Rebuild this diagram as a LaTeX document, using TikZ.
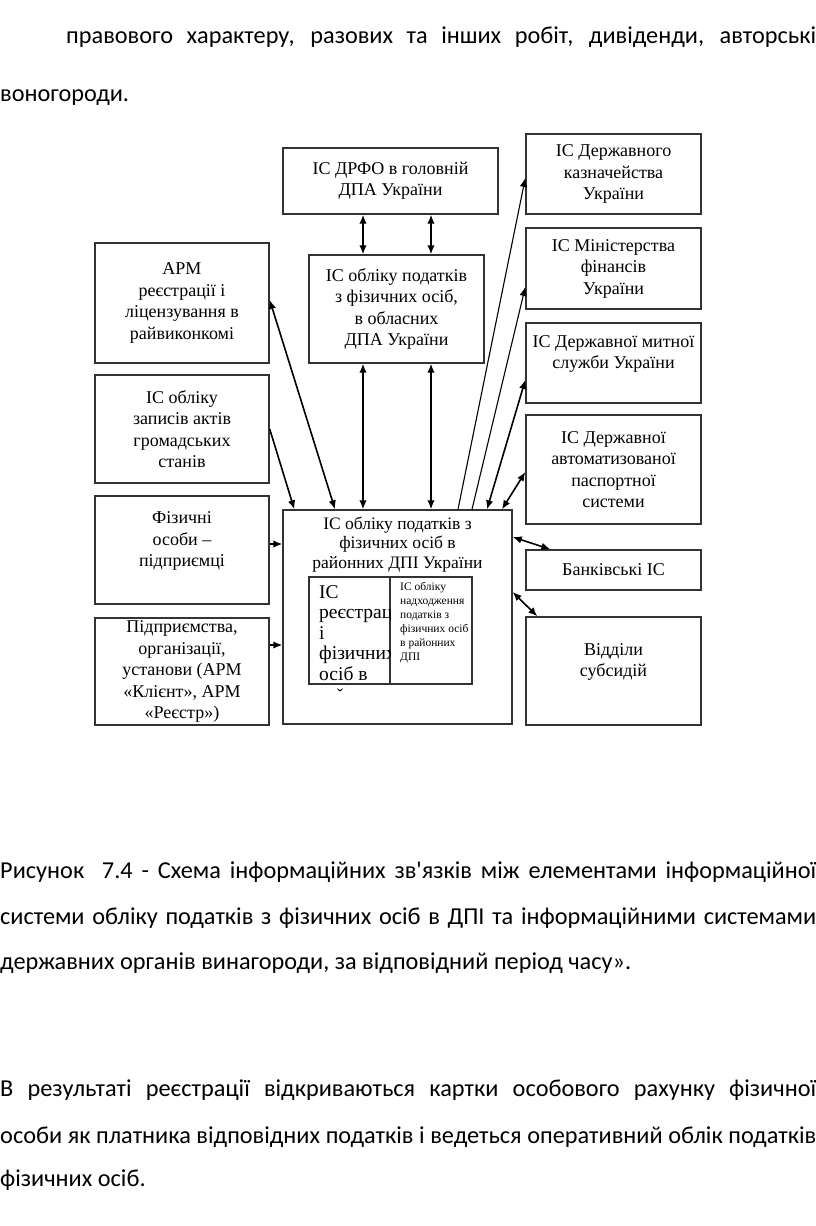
\documentclass[tikz,border=0pt]{standalone}
\usepackage{fontspec}
\newfontfamily\pagefont{Carlito}
\newfontfamily\boxfont{Liberation Serif}
\usetikzlibrary{arrows.meta, positioning}

\begin{document}
\begin{tikzpicture}[
    x=1pt, y=-1pt,
    box/.style={draw=black!80, line width=1.4pt, inner sep=0pt, align=center,
        font=\boxfont\fontsize{18}{21.5}\selectfont},
    pageline/.style={anchor=base west, inner sep=0pt, font=\pagefont\fontsize{24.3}{28}\selectfont},
    link/.style={line width=1.6pt},
    thinlink/.style={line width=1.1pt},
    >={Latex[length=9pt, width=7.5pt]} % Arrow style
]
\useasboundingbox (0,0) rectangle (816,1226);

% Text above
\node[pageline] (p1) at (66,43) {\makebox[750pt][s]{правового характеру, разових та інших робіт, дивіденди, авторські}};
\node[pageline] (p2) at (0,101) {воногороди.};

% Left column
\node[box, minimum width=174pt, minimum height=120pt] (arm) at (182,303) {АРМ\\ реєстрації і\\ ліцензування в\\ райвиконкомі};
\node[box, minimum width=174pt, minimum height=108pt] (zapys) at (182,429) {ІС обліку\\ записів актів\\ громадських\\ станів};
\node[box, minimum width=174pt, minimum height=108pt] (fiz) at (182,550) {Фізичні\\ особи –\\ підприємці\\ \mbox{}};
\node[box, minimum width=174pt, minimum height=107pt] (pidpr) at (182,671.5) {Підприємства,\\ організації,\\ установи (АРМ\\ «Клієнт», АРМ\\ «Реєстр»)};

% Middle column
\node[box, minimum width=215pt, minimum height=66pt] (drfo) at (390.5,181) {ІС ДРФО в головній\\ ДПА України};
\node[box, minimum width=175pt, minimum height=108pt] (obl) at (396.5,309) {ІС обліку податків\\ з фізичних осіб,\\ в обласних\\ ДПА України};
\node[box, minimum width=229pt, minimum height=214pt] (rayon) at (397.5,617) {};
\node[below=7pt of rayon.north, inner sep=0pt, align=center, font=\boxfont\fontsize{17.5}{19.5}\selectfont] (rayontitle) {ІС обліку податків з\\ фізичних осіб в\\ районних ДПІ України};
\node[box, minimum width=81pt, minimum height=107pt] (reestr) at (349.5,630.5) {};
\node[box, minimum width=82pt, minimum height=107pt] (nadh) at (431,630.5) {};
\begin{scope}
  \clip (reestr.south west) rectangle (reestr.north east);
  \node[anchor=north west, align=left, inner sep=0pt, font=\boxfont\fontsize{19.5}{20.5}\selectfont] (reestrtext) at (319,585) {ІС\\ реєстраці\\ і\\ фізичних\\ осіб в};
\end{scope}
\begin{scope}
  \clip (nadh.south west) rectangle (nadh.north east);
  \node[anchor=north west, align=left, inner sep=0pt, font=\boxfont\fontsize{11.5}{14}\selectfont] (nadhtext) at (400,582) {ІС обліку\\ надходження\\ податків з\\ фізичних осіб\\ в районних\\ ДПІ};
\end{scope}
\node[inner sep=0pt, font=\boxfont\fontsize{18}{18}\selectfont] (tail) at (340,695) {ˇ};

% Right column
\node[box, minimum width=175pt, minimum height=80pt] (kazn) at (613.5,174) {ІС Державного\\ казначейства\\ України};
\node[box, minimum width=175pt, minimum height=81pt] (minfin) at (613.5,268.5) {ІС Міністерства\\ фінансів\\ України};
\node[box, minimum width=175pt, minimum height=80pt] (mytna) at (613.5,363) {ІС Державної митної\\ служби України\\ \mbox{}};
\node[box, minimum width=175pt, minimum height=109pt] (pasp) at (613.5,469.5) {ІС Державної\\ автоматизованої\\ паспортної\\ системи};
\node[box, minimum width=175pt, minimum height=40pt] (bank) at (613.5,570) {Банківські ІС};
\node[box, minimum width=175pt, minimum height=108pt] (viddil) at (613.5,671) {Відділи\\ субсидій\\ \mbox{}};

% Arrows
\draw[link, <->] ([xshift=-27.5pt]drfo.south) -- ([xshift=-27.5pt]drfo.south |- obl.north);
\draw[link, <->] ([xshift=40.5pt]drfo.south) -- ([xshift=40.5pt]drfo.south |- obl.north);
\draw[link, <->] ([xshift=-33.5pt]obl.south) -- ([xshift=-33.5pt]obl.south |- rayon.north);
\draw[link, <->] ([xshift=34.5pt]obl.south) -- ([xshift=34.5pt]obl.south |- rayon.north);
\draw[link, <->] ([yshift=3pt]arm.east) -- ([xshift=-62.5pt]rayon.north);
\draw[link, ->] (zapys.east) -- ([xshift=12pt]rayon.north west);
\draw[link, ->] ([yshift=6pt]fiz.east) -- ([yshift=6pt]fiz.east -| rayon.west);
\draw[link, ->] ([yshift=26.5pt]pidpr.east) -- ([yshift=26.5pt]pidpr.east -| rayon.west);
\draw[thinlink, ->] ([xshift=60.5pt]rayon.north) -- ([yshift=-4pt]kazn.west);
\draw[thinlink, ->] ([xshift=74.5pt]rayon.north) -- ([yshift=-18.5pt]minfin.west);
\draw[link, <->] ([xshift=89.5pt]rayon.north) -- ([yshift=-17pt]mytna.west);
\draw[link, <->] ([xshift=104.5pt]rayon.north) -- ([yshift=-2.5pt]pasp.west);
\draw[link, <->] ([yshift=80pt]rayon.east) -- ([xshift=25pt]bank.north west);
\draw[link, <->] ([yshift=25pt]rayon.east) -- ([xshift=12pt]viddil.north west);

% Caption and text below
\node[pageline] (c1) at (0,878) {\makebox[816pt][s]{Рисунок\ \ 7.4 - Схема інформаційних зв'язків між елементами інформаційної}};
\node[pageline] (c2) at (0,924) {\makebox[816pt][s]{системи обліку податків з фізичних осіб в ДПІ та інформаційними системами}};
\node[pageline] (c3) at (0,969) {державних органів винагороди, за відповідний період часу».};
\node[pageline] (b1) at (0,1096) {\makebox[816pt][s]{В результаті реєстрації відкриваються картки особового рахунку фізичної}};
\node[pageline] (b2) at (0,1143) {\makebox[816pt][s]{особи як платника відповідних податків і ведеться оперативний облік податків}};
\node[pageline] (b3) at (0,1186) {фізичних осіб.};

\end{tikzpicture}
\end{document}
